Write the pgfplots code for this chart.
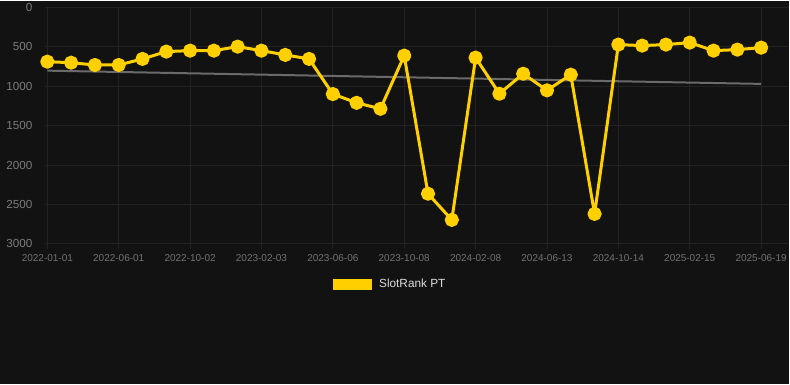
\documentclass[border=0pt]{standalone}
\usepackage{pgfplots}
\pgfplotsset{compat=1.18}
\usepackage{fontspec}
\setmainfont{Liberation Sans}
\definecolor{bgc}{HTML}{121212}
\definecolor{gridc}{HTML}{222222}
\definecolor{yc}{HTML}{FFD000}
\definecolor{trendc}{HTML}{6A6A6A}
\definecolor{ytickc}{HTML}{7C7C7C}
\definecolor{xtickc}{HTML}{727272}
\definecolor{legc}{HTML}{DDDDDD}
\begin{document}
\begin{tikzpicture}
\fill[bgc] (0pt,0pt) rectangle (790pt,384pt);
\begin{axis}[
  at={(45pt,140.7pt)}, anchor=south west,
  scale only axis, width=745pt, height=236.6pt,
  xmin=-0.1, xmax=31.18, ymin=0, ymax=3000,
  y dir=reverse,
  axis line style={draw=none},
  grid=major, grid style={gridc, line width=0.8pt},
  xtick={0,3,...,30},
  xticklabels={2022-01-01,2022-06-01,2022-10-02,2023-02-03,2023-06-06,2023-10-08,2024-02-08,2024-06-13,2024-10-14,2025-02-15,2025-06-19},
  ytick={0,500,...,3000},
  tick align=outside, major tick length=5pt,
  xtick style={gridc, line width=0.8pt},
  ytick style={draw=none},
  xtick pos=bottom, ytick pos=left,
  /pgf/number format/assume math mode=true,
  /pgf/number format/1000 sep={},
  xticklabel style={font=\fontsize{10}{12}\selectfont, text=xtickc, yshift=-2pt},
  yticklabel style={font=\fontsize{11.7}{13}\selectfont, text=ytickc, xshift=-4pt},
  legend style={at={(axis description cs:0.464,-0.17)}, anchor=center, draw=none, fill=none, text=legc, font=\fontsize{11.8}{14}\selectfont, /tikz/every odd column/.append style={column sep=5pt}},
  legend image code/.code={\fill[yc, draw=none, sharp corners, line width=0pt] (0pt,-5.5pt) rectangle (39pt,5.5pt);},
]
\addplot[trendc, line width=2pt, forget plot] coordinates {(0,802) (30,970)};
\addplot[yc, line width=3pt, line join=round, mark=*, mark size=5.6pt, mark options={solid, fill=yc, draw=none}] coordinates {
(0,688) (1,701) (2,730) (3,730) (4,653) (5,560) (6,548) (7,548) (8,497) (9,548)
(10,602) (11,653) (12,1099) (13,1210) (14,1286) (15,611) (16,2364) (17,2696) (18,637) (19,1095)
(20,841) (21,1052) (22,853) (23,2620) (24,471) (25,484) (26,471) (27,446) (28,548) (29,535) (30,510)
};
\addlegendentry{SlotRank PT}
\end{axis}
\end{tikzpicture}
\end{document}
